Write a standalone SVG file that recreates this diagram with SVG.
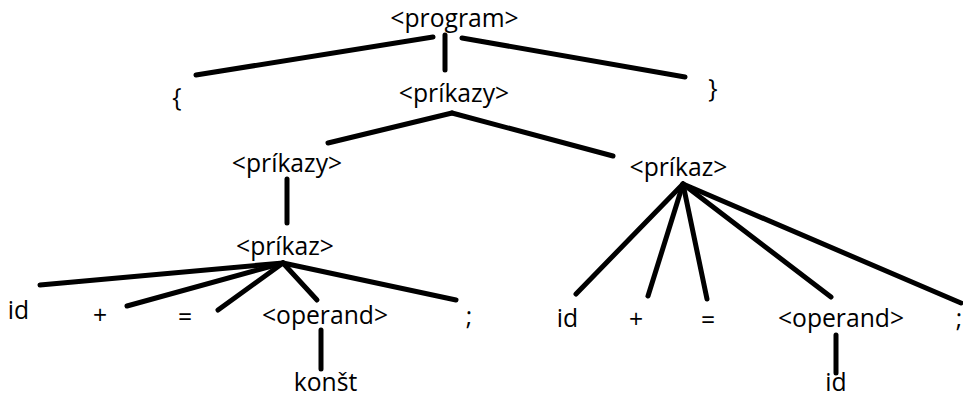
<svg xmlns="http://www.w3.org/2000/svg" width="963" height="398" viewBox="0 0 963 398">
<style>
text{font-family:"Open Sans","Noto Sans","DejaVu Sans",sans-serif;font-size:24.7px;fill:#000;text-anchor:middle}
.e{stroke:#000;stroke-width:5;stroke-linecap:round;fill:none}
</style>
<rect width="963" height="398" fill="#fff"/>
<g id="connectors">
<line class="e" x1="433" y1="37" x2="196" y2="75"/>
<line class="e" x1="445" y1="35" x2="445" y2="70"/>
<line class="e" x1="462" y1="38" x2="685" y2="77"/>
<line class="e" x1="452" y1="113" x2="328" y2="143"/>
<line class="e" x1="452" y1="113" x2="613" y2="156"/>
<line class="e" x1="287" y1="179" x2="287" y2="223"/>
<line class="e" x1="283" y1="263" x2="40" y2="285"/>
<line class="e" x1="283" y1="263" x2="127" y2="306"/>
<line class="e" x1="283" y1="263" x2="218" y2="310"/>
<line class="e" x1="283" y1="263" x2="317" y2="300"/>
<line class="e" x1="283" y1="263" x2="456" y2="300"/>
<line class="e" x1="321" y1="330" x2="321" y2="369"/>
<line class="e" x1="683" y1="184" x2="576" y2="294"/>
<line class="e" x1="683" y1="184" x2="648" y2="296"/>
<line class="e" x1="683" y1="184" x2="707" y2="299"/>
<line class="e" x1="683" y1="184" x2="831" y2="297"/>
<line class="e" x1="683" y1="184" x2="961" y2="303"/>
<line class="e" x1="836" y1="335" x2="836" y2="373"/>
</g>
<g id="program"><text x="454.5" y="27">&lt;program&gt;</text></g>
<g id="lbrace"><text x="177" y="106">{</text></g>
<g id="rbrace"><text x="713" y="97">}</text></g>
<g id="prikazy-top"><text x="454" y="102">&lt;príkazy&gt;</text></g>
<g id="prikazy-left"><text x="287" y="172">&lt;príkazy&gt;</text></g>
<g id="prikaz-right"><text x="678.5" y="176">&lt;príkaz&gt;</text></g>
<g id="prikaz-left"><text x="285" y="255">&lt;príkaz&gt;</text></g>
<g id="id-left"><text x="18.5" y="319">id</text></g>
<g id="plus-left"><text x="100" y="324">+</text></g>
<g id="eq-left"><text x="185" y="326">=</text></g>
<g id="operand-left"><text x="325" y="324">&lt;operand&gt;</text></g>
<g id="semi-left"><text x="469" y="325">;</text></g>
<g id="konst"><text x="325.5" y="391">konšt</text></g>
<g id="id-right"><text x="567.5" y="327">id</text></g>
<g id="plus-right"><text x="636" y="328">+</text></g>
<g id="eq-right"><text x="708" y="329">=</text></g>
<g id="operand-right"><text x="841" y="327">&lt;operand&gt;</text></g>
<g id="semi-right"><text x="959" y="327">;</text></g>
<g id="id-bottom"><text x="836" y="391">id</text></g>
</svg>
